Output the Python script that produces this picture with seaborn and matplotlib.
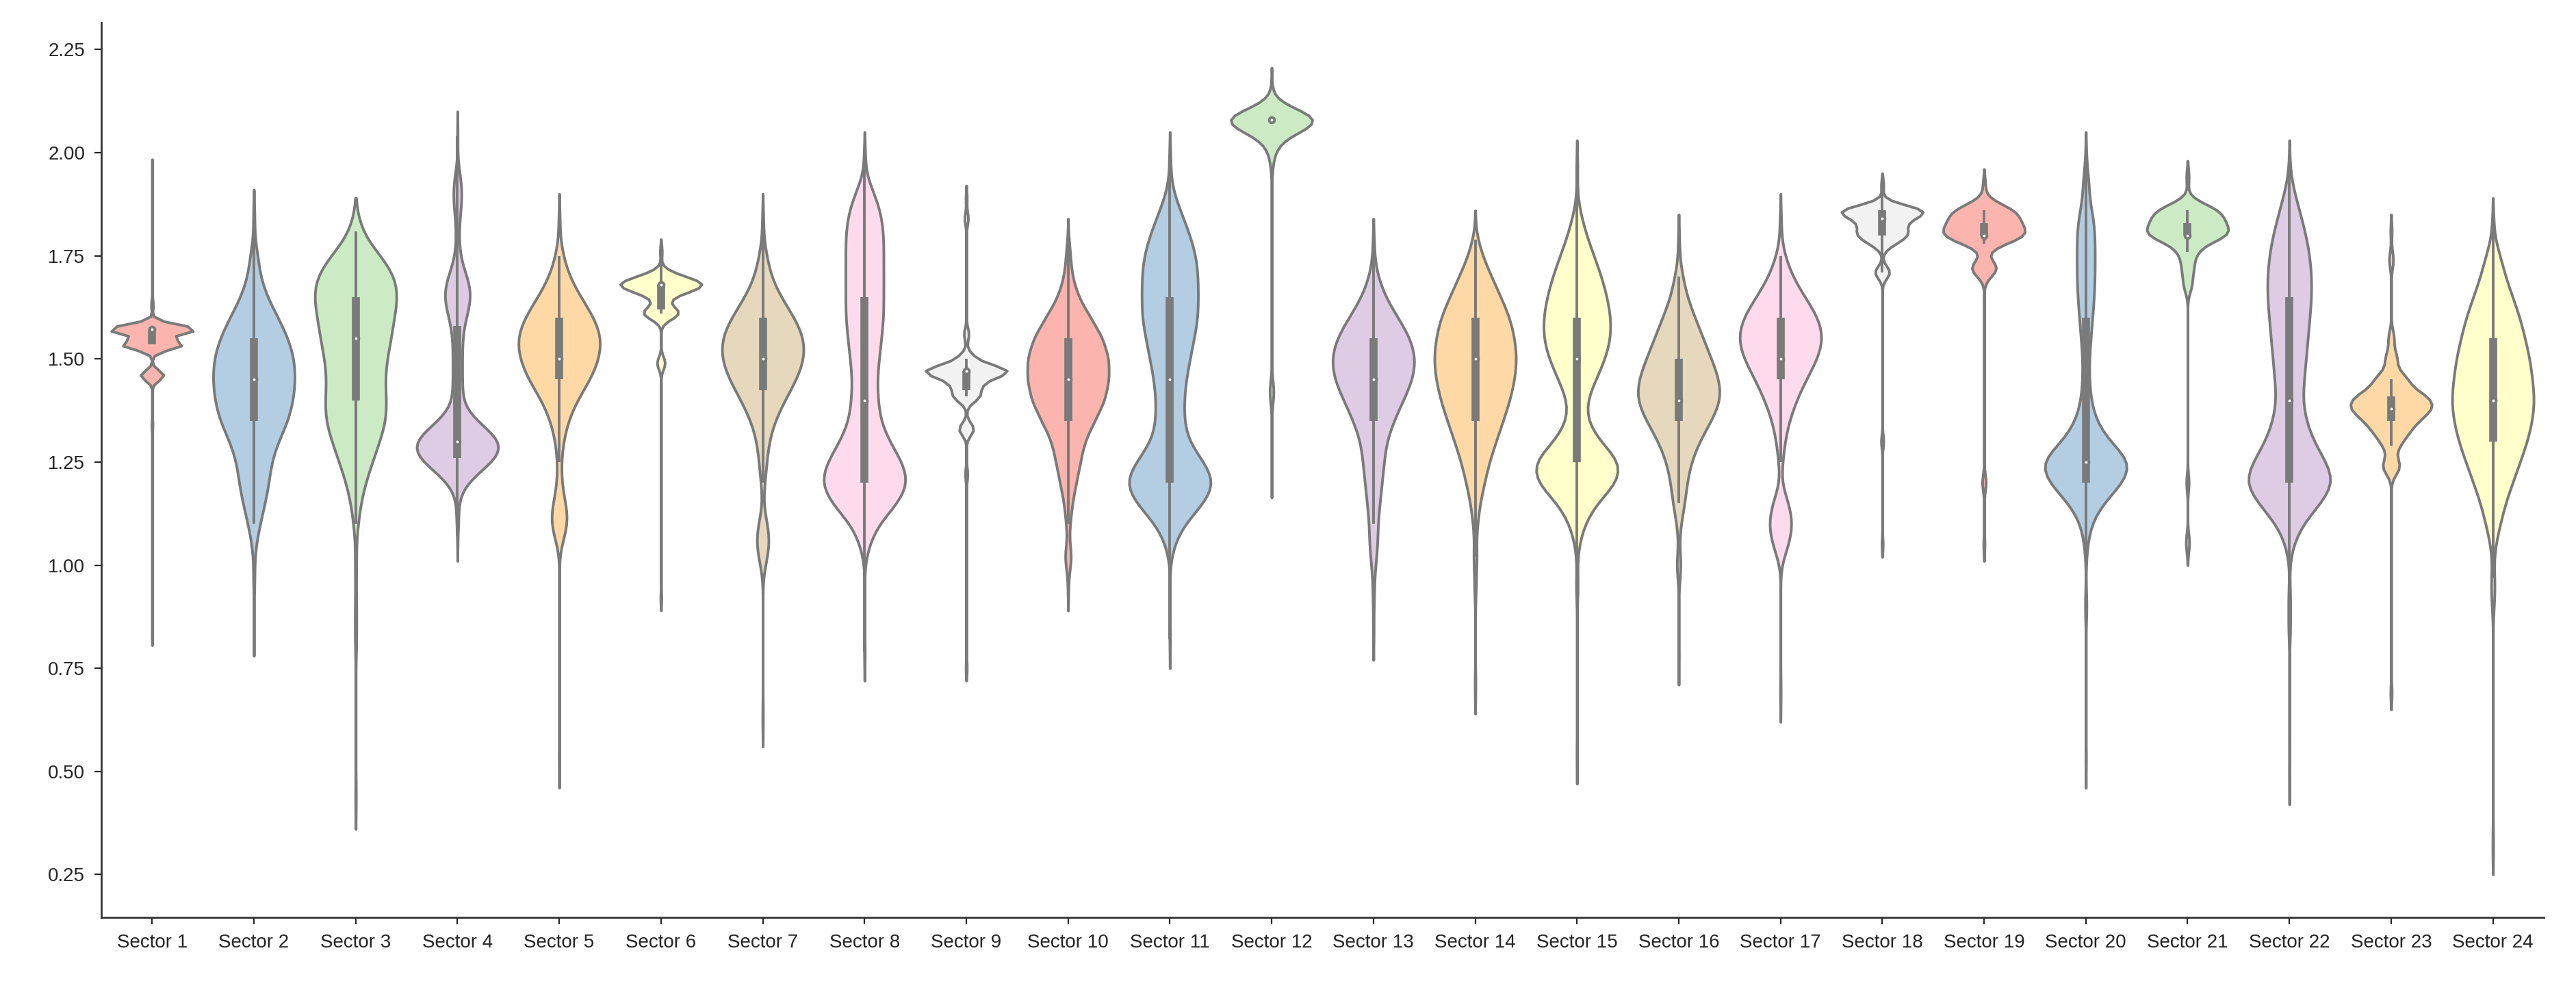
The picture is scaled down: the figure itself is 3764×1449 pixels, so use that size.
import numpy as np
import pandas as pd
import matplotlib
matplotlib.use("Agg")
import matplotlib.pyplot as plt
import seaborn as sns

sectors = [f"Sector {i}" for i in range(1, 25)]

# observed values per sector and how many observations sit at each value
s1_vals = [0.83, 1.34, 1.46, 1.535, 1.572, 1.63, 1.96]
s1_counts = [1, 3, 64, 168, 240, 6, 1]
s2_vals = [0.85, 0.97, 1.05, 1.10, 1.15, 1.20, 1.25, 1.30, 1.35, 1.40, 1.45, 1.50, 1.55, 1.60, 1.65, 1.70, 1.75, 1.84]
s2_counts = [1, 2, 4, 12, 22, 30, 34, 48, 68, 78, 82, 80, 68, 48, 26, 12, 8, 2]
s3_vals = [0.44, 0.82, 0.90, 1.00, 1.10, 1.15, 1.20, 1.25, 1.30, 1.35, 1.40, 1.45, 1.50, 1.55, 1.60, 1.65, 1.70, 1.75, 1.81]
s3_counts = [1, 2, 2, 2, 4, 8, 16, 28, 40, 52, 52, 48, 52, 60, 64, 72, 68, 44, 12]
s4_vals = [1.07, 1.12, 1.18, 1.22, 1.26, 1.30, 1.34, 1.38, 1.42, 1.46, 1.50, 1.54, 1.58, 1.62, 1.66, 1.70, 1.74, 1.78, 1.82, 1.86, 1.90, 1.94, 2.04]
s4_counts = [1, 4, 8, 44, 104, 116, 60, 16, 12, 12, 12, 12, 16, 28, 36, 24, 8, 4, 4, 8, 12, 8, 1]
s5_vals = [0.53, 1.08, 1.12, 1.16, 1.20, 1.25, 1.30, 1.35, 1.40, 1.45, 1.50, 1.55, 1.60, 1.65, 1.70, 1.75, 1.83]
s5_counts = [1, 12, 16, 8, 4, 4, 8, 18, 36, 64, 82, 88, 72, 44, 20, 8, 2]
s6_vals = [0.92, 1.49, 1.61, 1.63, 1.66, 1.68, 1.70, 1.76]
s6_counts = [1, 8, 32, 8, 24, 64, 24, 2]
s7_vals = [0.63, 1.02, 1.06, 1.10, 1.20, 1.25, 1.30, 1.35, 1.40, 1.45, 1.50, 1.55, 1.60, 1.65, 1.70, 1.75, 1.83]
s7_counts = [1, 8, 12, 8, 4, 8, 12, 24, 44, 68, 84, 84, 64, 36, 16, 8, 2]
s8_vals = [0.79, 1.05, 1.10, 1.15, 1.20, 1.25, 1.30, 1.35, 1.40, 1.45, 1.50, 1.55, 1.60, 1.65, 1.70, 1.75, 1.80, 1.85, 1.90, 1.98]
s8_counts = [1, 8, 24, 60, 80, 68, 44, 28, 24, 22, 26, 30, 34, 34, 34, 34, 34, 30, 18, 2]
s9_vals = [0.75, 1.22, 1.33, 1.41, 1.44, 1.47, 1.50, 1.56, 1.84, 1.89]
s9_counts = [1, 2, 12, 20, 20, 64, 12, 4, 3, 1]
s10_vals = [0.95, 1.02, 1.10, 1.15, 1.20, 1.25, 1.30, 1.35, 1.40, 1.45, 1.50, 1.55, 1.60, 1.65, 1.70, 1.75, 1.78]
s10_counts = [1, 8, 4, 8, 16, 24, 32, 52, 72, 80, 80, 68, 44, 20, 8, 4, 1]
s11_vals = [0.82, 1.05, 1.10, 1.15, 1.20, 1.25, 1.30, 1.35, 1.40, 1.45, 1.50, 1.55, 1.60, 1.65, 1.70, 1.75, 1.80, 1.85, 1.90, 1.98]
s11_counts = [1, 8, 28, 68, 92, 68, 36, 28, 28, 32, 40, 48, 56, 56, 56, 52, 40, 24, 8, 2]
s12_vals = [1.22, 1.42, 1.98, 2.02, 2.05, 2.08, 2.15]
s12_counts = [1, 8, 4, 12, 24, 160, 2]
s13_vals = [0.84, 0.93, 1.00, 1.05, 1.10, 1.15, 1.20, 1.25, 1.30, 1.35, 1.40, 1.45, 1.50, 1.55, 1.60, 1.65, 1.70, 1.77]
s13_counts = [1, 2, 4, 8, 8, 12, 16, 20, 24, 38, 56, 74, 80, 70, 46, 22, 8, 2]
s14_vals = [0.71, 0.95, 1.02, 1.10, 1.15, 1.20, 1.25, 1.30, 1.35, 1.40, 1.45, 1.50, 1.55, 1.60, 1.65, 1.70, 1.75, 1.79]
s14_counts = [1, 2, 4, 4, 8, 16, 24, 36, 48, 60, 68, 72, 68, 60, 44, 28, 12, 2]
s15_vals = [0.54, 0.95, 1.05, 1.10, 1.15, 1.20, 1.25, 1.30, 1.35, 1.40, 1.45, 1.50, 1.55, 1.60, 1.65, 1.70, 1.75, 1.80, 1.85, 1.96]
s15_counts = [1, 3, 4, 16, 40, 88, 96, 48, 20, 20, 40, 60, 72, 72, 64, 52, 36, 20, 8, 2]
s16_vals = [0.78, 1.00, 1.10, 1.15, 1.20, 1.25, 1.30, 1.35, 1.40, 1.45, 1.50, 1.55, 1.60, 1.65, 1.70, 1.78]
s16_counts = [1, 6, 4, 12, 16, 24, 40, 64, 84, 80, 64, 48, 32, 16, 8, 2]
s17_vals = [0.69, 1.05, 1.10, 1.15, 1.25, 1.30, 1.35, 1.40, 1.45, 1.50, 1.55, 1.60, 1.65, 1.70, 1.75, 1.83]
s17_counts = [1, 16, 24, 16, 4, 8, 16, 30, 48, 70, 82, 72, 46, 22, 8, 2]
s18_vals = [1.05, 1.30, 1.71, 1.78, 1.80, 1.82, 1.84, 1.86, 1.92]
s18_counts = [1, 2, 12, 12, 28, 20, 24, 56, 2]
s19_vals = [1.05, 1.20, 1.72, 1.78, 1.80, 1.83, 1.86, 1.92]
s19_counts = [1, 3, 20, 8, 48, 36, 36, 2]
s20_vals = [0.53, 0.90, 1.05, 1.10, 1.15, 1.20, 1.25, 1.30, 1.35, 1.40, 1.45, 1.50, 1.55, 1.60, 1.65, 1.70, 1.75, 1.80, 1.85, 1.92, 1.98]
s20_counts = [1, 3, 4, 12, 40, 92, 116, 56, 24, 12, 8, 8, 12, 16, 20, 22, 22, 22, 18, 10, 2]
s21_vals = [1.04, 1.06, 1.20, 1.68, 1.72, 1.76, 1.80, 1.83, 1.86, 1.94]
s21_counts = [1, 2, 2, 6, 8, 12, 48, 36, 36, 2]
s22_vals = [0.49, 0.85, 0.92, 1.05, 1.10, 1.15, 1.20, 1.25, 1.30, 1.35, 1.40, 1.45, 1.50, 1.55, 1.60, 1.65, 1.70, 1.75, 1.80, 1.85, 1.90, 1.96]
s22_counts = [1, 3, 3, 8, 28, 68, 100, 80, 52, 36, 28, 32, 36, 40, 44, 48, 48, 44, 36, 24, 12, 2]
s23_vals = [0.69, 1.24, 1.29, 1.32, 1.35, 1.38, 1.41, 1.45, 1.50, 1.55, 1.74, 1.81]
s23_counts = [1, 12, 8, 16, 24, 40, 36, 20, 8, 4, 3, 1]
s24_vals = [0.32, 0.92, 0.97, 1.05, 1.10, 1.15, 1.20, 1.25, 1.30, 1.35, 1.40, 1.45, 1.50, 1.55, 1.60, 1.65, 1.70, 1.75, 1.82]
s24_counts = [1, 3, 3, 4, 12, 20, 32, 44, 56, 64, 68, 64, 60, 52, 44, 32, 20, 12, 2]

# kde bandwidth (in data units) for each sector
bandwidths = [0.012, 0.035, 0.04, 0.03, 0.035, 0.015, 0.035, 0.035, 0.015, 0.03, 0.035, 0.028,
              0.035, 0.035, 0.035, 0.035, 0.035, 0.015, 0.02, 0.035, 0.02, 0.035, 0.02, 0.035]

all_vals = [s1_vals, s2_vals, s3_vals, s4_vals, s5_vals, s6_vals, s7_vals, s8_vals,
            s9_vals, s10_vals, s11_vals, s12_vals, s13_vals, s14_vals, s15_vals, s16_vals,
            s17_vals, s18_vals, s19_vals, s20_vals, s21_vals, s22_vals, s23_vals, s24_vals]
all_counts = [s1_counts, s2_counts, s3_counts, s4_counts, s5_counts, s6_counts, s7_counts, s8_counts,
              s9_counts, s10_counts, s11_counts, s12_counts, s13_counts, s14_counts, s15_counts, s16_counts,
              s17_counts, s18_counts, s19_counts, s20_counts, s21_counts, s22_counts, s23_counts, s24_counts]

frames = []
for name, vals, counts in zip(sectors, all_vals, all_counts):
    frames.append(pd.DataFrame({"sector": name, "value": np.repeat(vals, counts)}))
df = pd.concat(frames, ignore_index=True)

sns.set_theme(style="ticks")
plt.rcParams["font.family"] = ["Liberation Sans", "DejaVu Sans"]

GRAY = "#7a7a7a"
LW = 2.8
palette = sns.color_palette("Pastel1", 9)

fig, ax = plt.subplots(figsize=(37.64, 14.49), dpi=100)

# one call per sector so each violin keeps its own bandwidth
for i, name in enumerate(sectors):
    sub = df[df["sector"] == name]
    factor = bandwidths[i] / sub["value"].std()
    sns.violinplot(data=sub, x="sector", y="value", order=sectors,
                   color=palette[i % 9], saturation=1,
                   bw_method=factor, cut=2, gridsize=100,
                   density_norm="width", width=0.8, inner=None,
                   linewidth=LW, linecolor=GRAY, ax=ax)

# inner box: IQR bar, 1.5 IQR whisker and white median dot
for i, name in enumerate(sectors):
    obs = df.loc[df["sector"] == name, "value"].to_numpy()
    q1, med, q3 = np.percentile(obs, [25, 50, 75])
    reach = 1.5 * (q3 - q1)
    lo = obs[obs >= q1 - reach].min()
    hi = obs[obs <= q3 + reach].max()
    ax.plot([i, i], [lo, hi], color=GRAY, lw=LW, solid_capstyle="butt", zorder=3)
    ax.plot([i, i], [q1, q3], color=GRAY, lw=LW * 3, solid_capstyle="butt", zorder=3)
    ax.scatter(i, med, s=(2 * LW) ** 2, color="white", edgecolor=GRAY,
               linewidths=LW, zorder=4)

ax.set_xlim(-0.5, 23.5)
ax.set_ylim(0.146, 2.315)
ax.set_yticks([0.25, 0.5, 0.75, 1.0, 1.25, 1.5, 1.75, 2.0, 2.25])
ax.yaxis.set_major_formatter("{x:.2f}")
ax.set_xlabel("")
ax.set_ylabel("")
ax.tick_params(axis="both", labelsize=20, length=7, width=1.6, colors=".15")
ax.tick_params(axis="y", pad=10)
ax.tick_params(axis="x", pad=10)
for side in ["left", "bottom"]:
    ax.spines[side].set_linewidth(2.0)
    ax.spines[side].set_color(".2")
sns.despine(ax=ax)

fig.subplots_adjust(left=0.0393, right=0.9875, top=0.977, bottom=0.0752)
fig.savefig("out.png", dpi=100)
